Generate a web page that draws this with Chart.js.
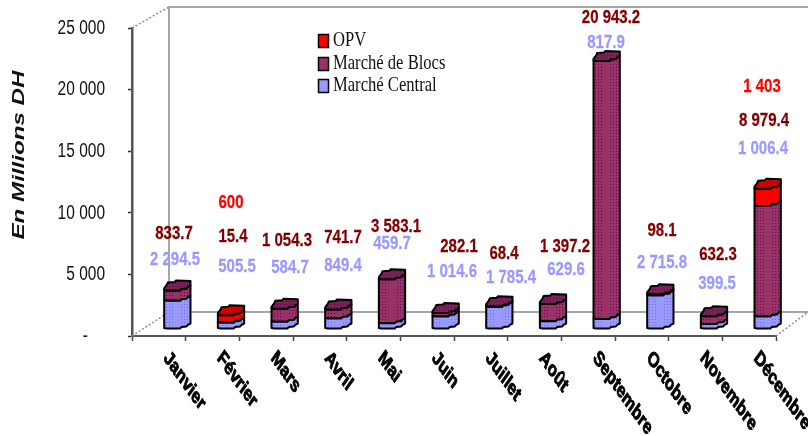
<!DOCTYPE html>
<html>
<head>
<meta charset="utf-8">
<title>En Millions DH</title>
<style>
html,body{margin:0;padding:0;background:#fff;overflow:hidden}
canvas{display:block;filter:blur(0.5px)}
</style>
<script src="https://cdn.jsdelivr.net/npm/chart.js@4/dist/chart.umd.js"></script>
</head>
<body>
<canvas id="c" width="808" height="436"></canvas>
<script>
const months = ['Janvier','Février','Mars','Avril','Mai','Juin','Juillet','Août','Septembre','Octobre','Novembre','Décembre'];
const marcheCentral = [2294.5,505.5,584.7,849.4,459.7,1014.6,1785.4,629.6,817.9,2715.8,399.5,1006.4];
const marcheBlocs = [833.7,15.4,1054.3,741.7,3583.1,282.1,68.4,1397.2,20943.2,98.1,632.3,8979.4];
const opv = [null,600,null,null,null,null,null,null,null,null,null,1403];
const yTicks = [0,5000,10000,15000,20000,25000];

// Hand-placed value label positions (layout only, separate from the data)
const centralLabelX = [175,237,290,343,392,452,511,566,606,662,717,763];
const centralLabelY = [260,267,268,266,244,272,278,270,43,263,284,149];
const blocsLabelX = [174,233,287,343,396,459,504,565,611,662,718,764];
const blocsLabelY = [234,237,241,238,227,247,254,247,18,231,255,121];
const opvLabelX = [0,231,0,0,0,0,0,0,0,0,0,762];
const opvLabelY = [0,203,0,0,0,0,0,0,0,0,0,87];

const SANS = '"Liberation Sans", Arial, sans-serif';
const SERIF = '"Liberation Serif", "Times New Roman", serif';
const DEPTH_X = 37, DEPTH_Y = 24;   // floor depth of the 3-D box
const BAR_DX = 18.5, BAR_DY = -11.5; // bars stand half way back on the floor
const FRONT = [[0,4],[0.1,4.5],[0.6,4.5],[0.66,3],[0.85,2.5],[0.9,0.8],[1,-0.5]];
const BACK = [[1,-5],[0.45,-5.5],[0.4,-4],[0.14,-3.5],[0.1,-1],[0,2.5]];

function fmt(v){
  return String(v).replace(/\B(?=(\d{3})+(?!\d))(?=[\d]*(\.|$))/g,' ');
}
function stretched(ctx,text,x,y,font,color,sy,rot,align,stroke){
  ctx.save();
  ctx.translate(x,y);
  ctx.scale(1,sy);
  if(rot) ctx.rotate(rot);
  ctx.font = font;
  ctx.fillStyle = color;
  ctx.textAlign = align || 'center';
  ctx.textBaseline = 'middle';
  ctx.fillText(text,0,0);
  if(stroke){ ctx.strokeStyle=color; ctx.lineWidth=stroke; ctx.strokeText(text,0,0); }
  ctx.restore();
}
function dots(ctx,bg,dot){
  const p=document.createElement('canvas'); p.width=3; p.height=3;
  const g=p.getContext('2d');
  g.fillStyle=bg; g.fillRect(0,0,3,3);
  g.fillStyle=dot; g.fillRect(1,1,1,1);
  return ctx.createPattern(p,'repeat');
}

class CylinderController extends Chart.BarController {
  draw(){
    const ctx=this.chart.ctx, meta=this._cachedMeta, ds=this.getDataset();
    const sets=this.chart.data.datasets, idx=this.index;
    meta.data.forEach((el,i)=>{
      const v=ds.data[i];
      if(v===null||v===undefined||el.skip) return;
      const hasAbove=sets.slice(idx+1).some(s=>s.data[i]>0);
      const w=el.width, left=el.x+BAR_DX-w/2;
      const top=el.y+BAR_DY, bot=el.base+BAR_DY;
      const px=t=>left+t*w;
      const body=()=>{
        ctx.beginPath();
        FRONT.forEach(([t,o],k)=>{ k?ctx.lineTo(px(t),top+o):ctx.moveTo(px(t),top+o); });
        [...FRONT].reverse().forEach(([t,o])=>ctx.lineTo(px(t),bot+o));
        ctx.closePath();
      };
      ctx.save();
      ctx.lineJoin='round';
      ctx.strokeStyle='#000';
      ctx.lineWidth=2;
      body();
      ctx.fillStyle=ds.faceColor; ctx.fill();
      ctx.save(); ctx.clip();
      ctx.fillStyle=dots(ctx,ds.faceColor,ds.dotColor);
      ctx.fillRect(left,top-8,w*0.36,bot-top+16);
      ctx.fillRect(left+w*0.62,top-8,w*0.38,bot-top+16);
      ctx.restore();
      ctx.stroke();
      if(!hasAbove){
        ctx.beginPath();
        FRONT.forEach(([t,o],k)=>{ k?ctx.lineTo(px(t),top+o):ctx.moveTo(px(t),top+o); });
        BACK.forEach(([t,o])=>ctx.lineTo(px(t),top+o));
        ctx.closePath();
        ctx.fillStyle=dots(ctx,ds.capColor,ds.dotColor);
        ctx.fill(); ctx.stroke();
      }
      ctx.restore();
    });
  }
}
CylinderController.id='cylinder';
CylinderController.defaults=Chart.BarController.defaults;
Chart.register(CylinderController);

const box3d={
  id:'box3d',
  beforeDatasetsDraw(chart){
    const {ctx,chartArea:a}=chart;
    const bx=a.left+DEPTH_X, fy=a.bottom-DEPTH_Y, ty=a.top-21;
    ctx.save();
    ctx.strokeStyle='#a6a6a6'; ctx.lineWidth=2;
    ctx.beginPath();
    ctx.moveTo(808,ty); ctx.lineTo(bx,ty); ctx.lineTo(bx,fy); ctx.lineTo(808,fy);
    ctx.stroke();
    ctx.lineWidth=1.5; ctx.setLineDash([2,2]); ctx.strokeStyle='#8c8c8c';
    ctx.beginPath();
    ctx.moveTo(a.left,a.top); ctx.lineTo(bx,ty);
    ctx.moveTo(a.left,a.bottom); ctx.lineTo(bx,fy);
    ctx.moveTo(a.right,a.bottom); ctx.lineTo(808,fy);
    ctx.stroke();
    ctx.restore();
  },
  afterDatasetsDraw(chart){
    const {ctx,scales:{x,y},data}=chart;
    // y tick labels
    y.ticks.forEach((t,i)=>{
      const py=y.getPixelForTick(i);
      stretched(ctx,t.label,t.value===0?88:105,py,'15.5px '+SANS,'#111',1.35,0,'right');
    });
    // x month labels
    months.forEach((m,i)=>{
      stretched(ctx,m,x.getPixelForTick(i)+7,355,'bold 15px '+SANS,'#000',1.4,Math.PI/4,'left',0.7);
    });
    // axis title
    stretched2(ctx,'En Millions DH',19,155,'italic bold 17px '+SANS,'#111');
    // value labels
    const lab=(vals,xs,ys,col)=>vals.forEach((v,i)=>{
      if(v!==null) stretched(ctx,fmt(v),xs[i],ys[i],'bold 15px '+SANS,col,1.28,0,'center',0.2);
    });
    lab(marcheCentral,centralLabelX,centralLabelY,'#9999ff');
    lab(marcheBlocs,blocsLabelX,blocsLabelY,'#800000');
    lab(opv,opvLabelX,opvLabelY,'#ff0000');
    // legend
    const legend=[2,1,0], legendY=[41,64,86];
    legend.forEach((d,k)=>{
      const ds=data.datasets[d], ly=legendY[k];
      ctx.fillStyle=ds.faceColor; ctx.strokeStyle='#000'; ctx.lineWidth=1.5;
      ctx.fillRect(318.5,ly-6.5,10,13); ctx.strokeRect(318.5,ly-6.5,10,13);
      stretched(ctx,ds.label,333,ly,'16.6px '+SERIF,'#111',1.25,0,'left');
    });
  }
};
function stretched2(ctx,text,x,y,font,color){
  ctx.save();
  ctx.translate(x,y);
  ctx.rotate(-Math.PI/2);
  ctx.scale(1.42,1);
  ctx.font=font; ctx.fillStyle=color; ctx.textAlign='center'; ctx.textBaseline='middle';
  ctx.fillText(text,0,0);
  ctx.restore();
}

new Chart(document.getElementById('c'),{
  type:'cylinder',
  data:{
    labels:months,
    datasets:[
      {label:'Marché Central',data:marcheCentral,faceColor:'#9999ff',dotColor:'#7070dd',capColor:'#7a7ae0',backgroundColor:'#9999ff',clip:false},
      {label:'Marché de Blocs',data:marcheBlocs,faceColor:'#993366',dotColor:'#660066',capColor:'#7a2352',backgroundColor:'#993366',clip:false},
      {label:'OPV',data:opv,faceColor:'#ff0000',dotColor:'#d80000',capColor:'#d00000',backgroundColor:'#ff0000',clip:false}
    ]
  },
  options:{
    responsive:false,
    animation:false,
    events:[],
    layout:{autoPadding:false,padding:{left:0,right:32,top:28,bottom:0}},
    datasets:{cylinder:{categoryPercentage:1,barPercentage:0.49}},
    plugins:{legend:{display:false},title:{display:false},tooltip:{enabled:false}},
    scales:{
      x:{
        stacked:true,
        afterFit(s){s.height=100;},
        grid:{drawOnChartArea:false,tickLength:5,tickColor:'#444',tickWidth:1.5},
        border:{color:'#555',width:2},
        ticks:{display:false}
      },
      y:{
        stacked:true,
        min:0,max:25000,
        afterFit(s){s.width=132;},
        afterBuildTicks(s){s.ticks=yTicks.map(v=>({value:v}));},
        grid:{drawOnChartArea:false,tickLength:4,tickColor:'#333',tickWidth:1.5},
        border:{color:'#555',width:2.5},
        ticks:{display:false,callback:v=>v===0?'-':fmt(v)}
      }
    }
  },
  plugins:[box3d]
});
</script>
</body>
</html>
